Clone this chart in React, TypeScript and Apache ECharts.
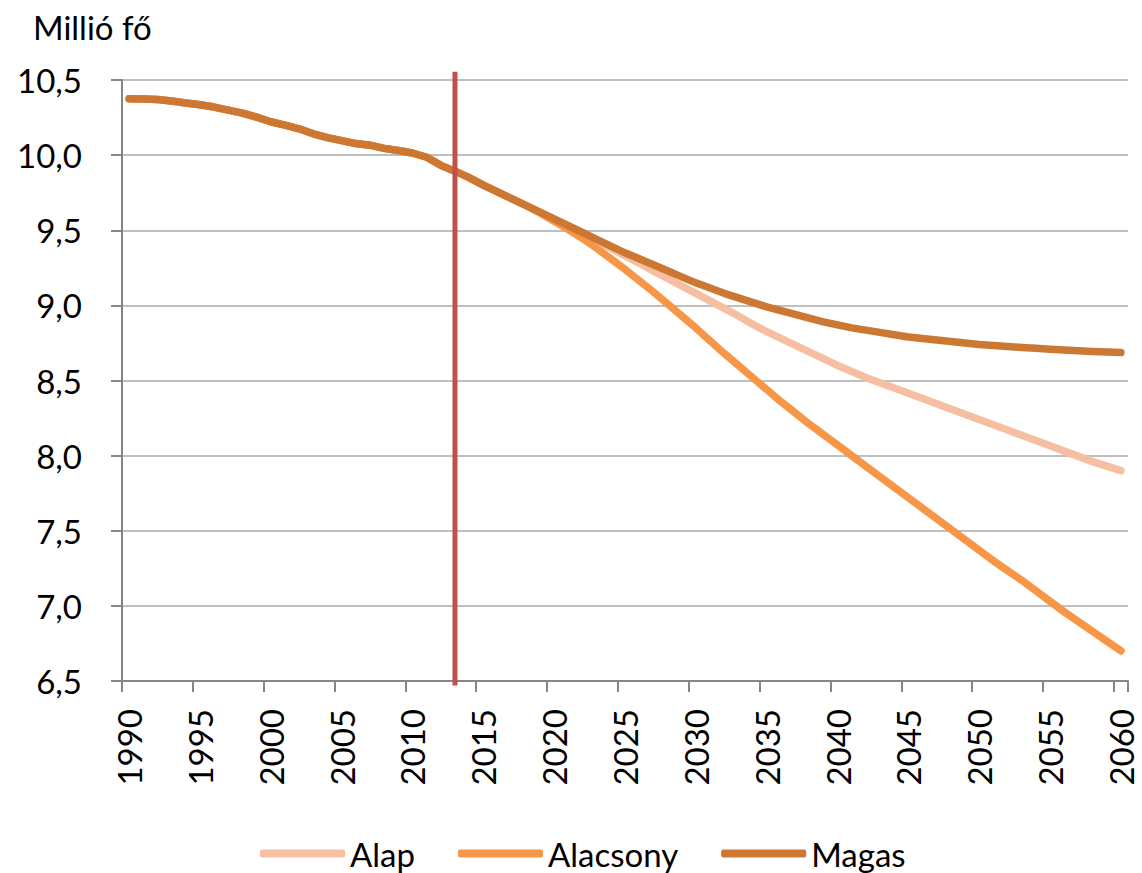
import React, { useEffect, useRef } from "react";
import * as echarts from "echarts";

const years: string[] = [];
for (let y = 1990; y <= 2060; y++) years.push(String(y));

// 1990–2013 observed + common trunk up to 2018
const history = [
  10.375, 10.373, 10.37, 10.36, 10.347, 10.335, 10.32, 10.3, 10.28, 10.253,
  10.222, 10.2, 10.175, 10.142, 10.117, 10.097, 10.077, 10.066, 10.045, 10.031,
  10.014, 9.986, 9.932, 9.893, 9.85, 9.8, 9.755, 9.71, 9.665,
];

// 2019–2060
const alapTail = [
  9.62, 9.57, 9.525, 9.478, 9.43, 9.38, 9.33, 9.28, 9.23, 9.18,
  9.13, 9.08, 9.03, 8.98, 8.93, 8.875, 8.825, 8.78, 8.735, 8.69,
  8.645, 8.6, 8.56, 8.52, 8.485, 8.45, 8.415, 8.38, 8.345, 8.31,
  8.275, 8.24, 8.205, 8.17, 8.135, 8.1, 8.065, 8.03, 7.995, 7.96,
  7.93, 7.9,
];
const alacsonyTail = [
  9.615, 9.56, 9.505, 9.445, 9.38, 9.31, 9.24, 9.165, 9.09, 9.01,
  8.93, 8.85, 8.765, 8.68, 8.6, 8.52, 8.44, 8.36, 8.285, 8.21,
  8.14, 8.07, 8.0, 7.93, 7.86, 7.79, 7.72, 7.65, 7.58, 7.51,
  7.44, 7.37, 7.3, 7.235, 7.17, 7.1, 7.03, 6.96, 6.895, 6.83,
  6.765, 6.7,
];
const magasTail = [
  9.62, 9.575, 9.53, 9.485, 9.44, 9.395, 9.35, 9.31, 9.27, 9.23,
  9.19, 9.15, 9.115, 9.08, 9.05, 9.02, 8.99, 8.965, 8.94, 8.915,
  8.89, 8.87, 8.85, 8.835, 8.82, 8.805, 8.79, 8.78, 8.77, 8.76,
  8.75, 8.74, 8.733, 8.727, 8.72, 8.714, 8.708, 8.703, 8.698, 8.693,
  8.689, 8.686,
];

const alap = [...history, ...alapTail];
const alacsony = [...history, ...alacsonyTail];
const magas = [...history, ...magasTail];

const seriesNames = ["Alap", "Alacsony", "Magas"];
const seriesColors = ["#F6BFA2", "#F79646", "#CC7833"];
const markerYear = "2013";
const markerTop = 10.555;
const markerBottom = 6.47;
const yMin = 6.5;
const yMax = 10.5;
const yStep = 0.5;

const FONT = "Lato, 'Open Sans', sans-serif";

export default function App() {
  const ref = useRef<HTMLDivElement>(null);
  useEffect(() => {
    if (!ref.current) return;
    const chart = echarts.init(ref.current, undefined, { renderer: "svg" });
    const datasets = [alap, alacsony, magas];
    const lineSeries = datasets.map((d, i) => ({
      name: seriesNames[i],
      type: "line",
      data: d,
      symbol: "none",
      smooth: false,
      color: seriesColors[i],
      lineStyle: { width: 7.5, color: seriesColors[i], cap: "round", join: "round" },
      z: 2 + i,
    }));
    chart.setOption({
      animation: false,
      textStyle: { fontFamily: FONT },
      graphic: [
        {
          type: "text",
          left: 33,
          top: 10,
          style: { text: "Millió fő", fontSize: 33, fontFamily: FONT, fill: "#000" },
        },
      ],
      legend: {
        data: seriesNames,
        left: 255,
        top: 832,
        itemWidth: 85,
        itemHeight: 8,
        itemGap: 43,
        icon: "roundRect",
        textStyle: { fontSize: 33, color: "#000", fontFamily: FONT },
      },
      grid: { left: 122, right: 14, top: 80, bottom: 192, containLabel: false },
      xAxis: {
        type: "category",
        data: years,
        boundaryGap: true,
        axisLine: { show: true, lineStyle: { color: "#868686", width: 2 } },
        axisTick: { show: true, interval: 4, length: 11, alignWithLabel: false, lineStyle: { color: "#868686", width: 2 } },
        axisLabel: { interval: 4, rotate: 90, fontSize: 33, color: "#000", margin: 28, fontFamily: FONT },
        splitLine: { show: false },
      },
      yAxis: {
        type: "value",
        min: yMin,
        max: yMax,
        interval: yStep,
        axisLine: { show: true, lineStyle: { color: "#868686", width: 2 } },
        axisTick: { show: true, length: 11, lineStyle: { color: "#868686", width: 2 } },
        axisLabel: {
          fontSize: 33,
          color: "#000",
          margin: 40,
          fontFamily: FONT,
          formatter: (v: number) => v.toFixed(1).replace(".", ","),
        },
        splitLine: { show: true, lineStyle: { color: "#BFBFBF", width: 2 } },
      },
      series: [
        ...lineSeries,
        {
          name: "marker",
          type: "custom",
          silent: true,
          clip: false,
          z: 20,
          data: [[markerYear, markerTop, markerBottom]],
          encode: { x: 0, y: 1 },
          renderItem: (_params: any, api: any) => {
            const top = api.coord([api.value(0), api.value(1)]);
            const bottom = api.coord([api.value(0), api.value(2)]);
            return {
              type: "line",
              shape: { x1: top[0], y1: top[1], x2: bottom[0], y2: bottom[1] },
              style: { stroke: "#C0504D", lineWidth: 5 },
            };
          },
        },
      ],
    });
    return () => chart.dispose();
  }, []);
  return (
    <div
      ref={ref}
      style={{ position: "absolute", left: 0, top: 0, width: 1142, height: 873 }}
    />
  );
}
